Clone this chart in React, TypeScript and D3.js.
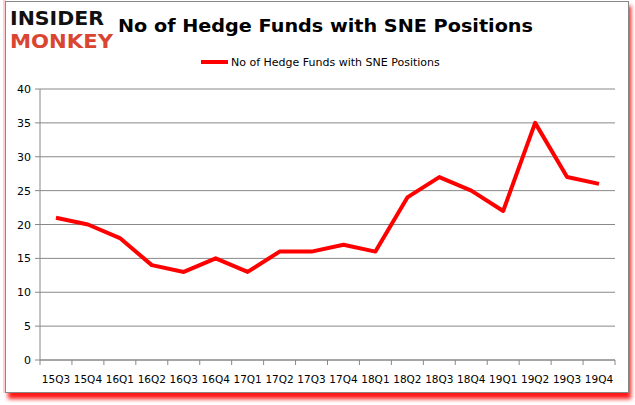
import React from 'react';
import * as d3 from 'd3';

const quarters = ['15Q3', '15Q4', '16Q1', '16Q2', '16Q3', '16Q4', '17Q1', '17Q2', '17Q3', '17Q4', '18Q1', '18Q2', '18Q3', '18Q4', '19Q1', '19Q2', '19Q3', '19Q4'];
const hedgeFunds = [21, 20, 18, 14, 13, 15, 13, 16, 16, 17, 16, 24, 27, 25, 22, 35, 27, 26];
const yTicks = [0, 5, 10, 15, 20, 25, 30, 35, 40];

const W = 635;
const H = 405;
const margin = { top: 89, right: 20, bottom: 45, left: 40 };
const font = 'Tahoma, "DejaVu Sans", sans-serif';

export default function App() {
  const x = d3.scaleBand().domain(quarters).range([margin.left, W - margin.right]);
  const y = d3.scaleLinear().domain([0, 40]).range([H - margin.bottom, margin.top]);

  const line = d3.line<number>()
    .x((_, i) => (x(quarters[i]) || 0) + x.bandwidth() / 2)
    .y(d => y(d));

  const x0 = margin.left;
  const x1 = W - margin.right;
  const yBase = y(0);

  return (
    <svg width={W} height={H} style={{ position: 'absolute', left: 0, top: 0 }}>
      <defs>
        <filter id="shadow" x="-5%" y="-5%" width="110%" height="115%">
          <feGaussianBlur stdDeviation="2" />
        </filter>
      </defs>
      <rect width={W} height={H} fill="#fff" />
      {/* red drop shadow */}
      <rect x={8} y={6} width={623} height={393} fill="#ff0000" filter="url(#shadow)" opacity={0.9} />
      <rect x={3} y={1} width={626} height={392} fill="#fff" />
      <rect x={3} y={-1} width={3} height={394} fill="#ffd0d0" />
      <rect x={5.5} y={1.5} width={623} height={391} fill="#fff" stroke="#888" strokeWidth={1} />

      {/* logo */}
      <text x={10} y={25} fontFamily='"DejaVu Sans", sans-serif' fontWeight="900" fontSize={19}
        textLength={94} lengthAdjust="spacingAndGlyphs" fill="#111">INSIDER</text>
      <text x={10} y={48} fontFamily='"DejaVu Sans", sans-serif' fontWeight="900" fontSize={19}
        textLength={103} lengthAdjust="spacingAndGlyphs" fill="#d94530">MONKEY</text>

      {/* title */}
      <text x={118} y={32} fontFamily='"DejaVu Sans", sans-serif'
        fontWeight="bold" fontSize={17.5} textLength={415} lengthAdjust="spacingAndGlyphs"
        fill="#000">No of Hedge Funds with SNE Positions</text>

      {/* legend */}
      <line x1={201} x2={228} y1={62} y2={62} stroke="#ff0000" strokeWidth={4} />
      <text x={231} y={66} fontFamily={font} fontSize={11} fill="#000">No of Hedge Funds with SNE Positions</text>

      {/* gridlines */}
      {yTicks.map(t => (
        <g key={t}>
          <line x1={x0} x2={x1} y1={y(t)} y2={y(t)} stroke="#888" strokeWidth={1} />
          <line x1={x0 - 5} x2={x0} y1={y(t)} y2={y(t)} stroke="#888" strokeWidth={1} />
          <text x={x0 - 9} y={y(t) + 4} textAnchor="end" fontFamily={font} fontSize={11} fill="#000">{t}</text>
        </g>
      ))}
      <line x1={x0} x2={x0} y1={y(40)} y2={yBase} stroke="#888" strokeWidth={1} />
      <line x1={x0} x2={x1} y1={yBase} y2={yBase} stroke="#888" strokeWidth={1} />
      {quarters.map(q => (
        <line key={q} x1={x.bandwidth() + (x(q) || 0)} x2={x.bandwidth() + (x(q) || 0)}
          y1={yBase} y2={yBase + 5} stroke="#888" strokeWidth={1} />
      ))}
      <line x1={x0} x2={x0} y1={yBase} y2={yBase + 5} stroke="#888" strokeWidth={1} />
      {quarters.map(q => (
        <text key={q} x={(x(q) || 0) + x.bandwidth() / 2} y={yBase + 23} textAnchor="middle"
          fontFamily={font} fontSize={10.5} fill="#000">{q}</text>
      ))}

      <path d={line(hedgeFunds) || ''} fill="none" stroke="#ff0000" strokeWidth={4} strokeLinejoin="round" strokeLinecap="butt" />
    </svg>
  );
}
